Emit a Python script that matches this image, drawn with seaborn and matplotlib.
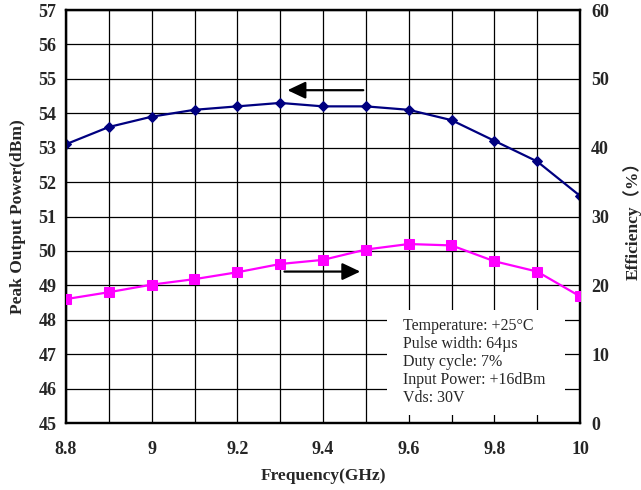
import matplotlib
matplotlib.use("Agg")
import matplotlib.pyplot as plt
from matplotlib.ticker import MultipleLocator
import seaborn as sns
import pandas as pd

freq = [8.8, 8.9, 9.0, 9.1, 9.2, 9.3, 9.4, 9.5, 9.6, 9.7, 9.8, 9.9, 10.0]
power_dbm = [53.1, 53.6, 53.9, 54.1, 54.2, 54.3, 54.2, 54.2, 54.1, 53.8, 53.2, 52.6, 51.6]
efficiency = [18.0, 19.0, 20.1, 20.9, 21.9, 23.1, 23.7, 25.2, 26.0, 25.8, 23.5, 22.0, 18.4]
x_ticks = [8.8, 9.0, 9.2, 9.4, 9.6, 9.8, 10.0]
x_tick_labels = ["8.8", "9", "9.2", "9.4", "9.6", "9.8", "10"]
left_ticks = list(range(45, 58))
right_ticks = list(range(0, 61, 10))
info_lines = ["Temperature: +25°C", "Pulse width: 64µs", "Duty cycle: 7%",
              "Input Power: +16dBm", "Vds: 30V"]

sns.set_style("white")
plt.rcParams["font.family"] = ["Liberation Serif", "Noto Sans CJK SC", "DejaVu Sans"]

df = pd.DataFrame({"freq": freq, "power": power_dbm, "eff": efficiency})

fig = plt.figure(figsize=(6.41, 4.90), dpi=100)
ax1 = fig.add_axes([66/641, 1-423/490, 514/641, 413/490])
ax2 = ax1.twinx()

sns.lineplot(data=df, x="freq", y="power", ax=ax1, color="#000080", marker="D",
             markersize=5, markeredgecolor="#000080", linewidth=1.6, zorder=5)
sns.lineplot(data=df, x="freq", y="eff", ax=ax2, color="#FF00FF", marker="s",
             markersize=7, markeredgecolor="#FF00FF", linewidth=1.6, zorder=5)

ax1.set_xlim(8.8, 10.0)
ax1.set_ylim(45, 57)
ax2.set_ylim(0, 60)
ax1.set_xticks(x_ticks)
ax1.set_xticklabels(x_tick_labels)
ax1.xaxis.set_minor_locator(MultipleLocator(0.1))
ax1.set_yticks(left_ticks)
ax2.set_yticks(right_ticks)

ax1.grid(True, which="both", axis="x", color="black", linewidth=0.9)
ax1.grid(True, which="major", axis="y", color="black", linewidth=0.9)
ax1.set_axisbelow(True)

for ax in (ax1, ax2):
    ax.tick_params(axis="both", which="both", length=0)
    for s in ax.spines.values():
        s.set_color("black")
        s.set_linewidth(1.6)

ax1.tick_params(axis="x", pad=13, labelsize=13)
ax1.tick_params(axis="y", pad=7, labelsize=13)
ax2.tick_params(axis="y", pad=8, labelsize=13)
for lab in ax1.get_xticklabels() + ax1.get_yticklabels() + ax2.get_yticklabels():
    lab.set_fontweight("bold")

ax1.set_xlabel("Frequency(GHz)", fontsize=12.5, fontweight="bold")
ax1.set_ylabel("Peak Output Power(dBm)", fontsize=12.5, fontweight="bold")
ax2.set_ylabel("Efficiency（%）", fontsize=12.5, fontweight="bold")
ax1.xaxis.set_label_coords(0.5, -0.108)
ax1.yaxis.set_label_coords(-0.078, 0.5)
ax2.yaxis.set_label_coords(1.084, 0.5)

# arrows
arrow_kw = dict(arrowstyle="-|>,head_length=11,head_width=5.2", mutation_scale=1,
                color="black", lw=1.6, shrinkA=0, shrinkB=0)
ax1.annotate("", xy=(9.317, 54.67), xytext=(9.494, 54.67), arrowprops=arrow_kw, zorder=6)
ax2.annotate("", xy=(9.487, 22.0), xytext=(9.31, 22.0), arrowprops=arrow_kw, zorder=6)

# info box
ax2.add_patch(plt.Rectangle((0.6245, 0.019), 0.347, 0.254, transform=ax2.transAxes,
                            facecolor="white", edgecolor="none", zorder=3))
ax2.text(0.656, 0.254, "\n".join(info_lines), transform=ax2.transAxes, fontsize=11.5,
         va="top", ha="left", linespacing=1.17, zorder=4)

fig.savefig("out.png", dpi=100)
